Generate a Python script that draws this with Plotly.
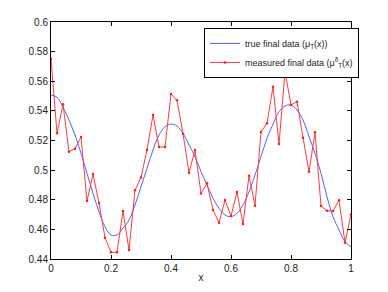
import plotly.graph_objects as go

x_vals = [round(i * 0.02, 2) for i in range(51)]

true_vals = [0.5507, 0.5492, 0.5424, 0.5338, 0.5237, 0.5114, 0.4979, 0.4843, 0.4720, 0.4618,
             0.4562, 0.4562, 0.4609, 0.4663, 0.4765, 0.4888, 0.5012, 0.5136, 0.5237, 0.5293,
             0.5311, 0.5298, 0.5248, 0.5170, 0.5091, 0.4990, 0.4900, 0.4810, 0.4742, 0.4697,
             0.4686, 0.4708, 0.4765, 0.4854, 0.4967, 0.5091, 0.5215, 0.5310, 0.5394, 0.5433,
             0.5440, 0.5406, 0.5338, 0.5226, 0.5114, 0.4979, 0.4821, 0.4686, 0.4596, 0.4517,
             0.4483]

measured_vals = [0.5750, 0.5249, 0.5444, 0.5124, 0.5145, 0.5224, 0.4791, 0.4974, 0.4778, 0.4544,
                 0.4445, 0.4445, 0.4724, 0.4461, 0.4864, 0.4951, 0.5136, 0.5372, 0.5156, 0.5156,
                 0.5514, 0.5471, 0.5246, 0.4983, 0.5136, 0.4843, 0.4911, 0.4731, 0.4645, 0.4798,
                 0.4690, 0.4852, 0.4636, 0.4962, 0.4760, 0.5257, 0.5316, 0.5563, 0.5176, 0.5665,
                 0.5440, 0.5462, 0.5219, 0.4989, 0.5255, 0.4758, 0.4726, 0.4724, 0.4796, 0.4510,
                 0.4702]

x_ticks = [0, 0.2, 0.4, 0.6, 0.8, 1]
x_tick_labels = ["0", "0.2", "0.4", "0.6", "0.8", "1"]
y_ticks = [0.44, 0.46, 0.48, 0.5, 0.52, 0.54, 0.56, 0.58, 0.6]
y_tick_labels = ["0.44", "0.46", "0.48", "0.5", "0.52", "0.54", "0.56", "0.58", "0.6"]

FONT = "Liberation Sans, Arial"

fig = go.Figure()
fig.add_trace(go.Scatter(
    x=x_vals, y=true_vals, mode="lines", line_shape="spline",
    line=dict(color="rgb(80,100,255)", width=1),
    name="true final data (μ<sub>T</sub>(x))"))
fig.add_trace(go.Scatter(
    x=x_vals, y=measured_vals, mode="lines+markers",
    line=dict(color="rgb(255,60,60)", width=1),
    marker=dict(color="rgb(255,30,30)", size=2.5),
    name="measured final data (μ<sup>δ</sup><sub>T</sub>(x)"))

axis_common = dict(showline=True, linecolor="black", linewidth=1, mirror="ticks",
                   ticks="inside", ticklen=4, tickcolor="black", showgrid=False,
                   zeroline=False, automargin=False,
                   tickfont=dict(family=FONT, size=10, color="#222"))

fig.update_xaxes(range=[0, 1], tickvals=x_ticks, ticktext=x_tick_labels,
                 title=dict(text="x", font=dict(family=FONT, size=10, color="#222"), standoff=0),
                 **axis_common)
fig.update_yaxes(range=[0.44, 0.6], tickvals=y_ticks, ticktext=y_tick_labels, **axis_common)

# page body has an 8px margin; compensate so the plot area sits where the reference has it
fig.update_layout(
    width=380, height=284,
    margin=dict(l=43, r=37, t=14, b=33),
    plot_bgcolor="white", paper_bgcolor="white",
    font=dict(family=FONT, size=10, color="#222"),
    legend=dict(x=0.51, y=0.975, xanchor="left", yanchor="top",
                bgcolor="white", bordercolor="black", borderwidth=1,
                font=dict(size=9), itemwidth=30, tracegroupgap=0),
)

fig.write_html("out.html")
